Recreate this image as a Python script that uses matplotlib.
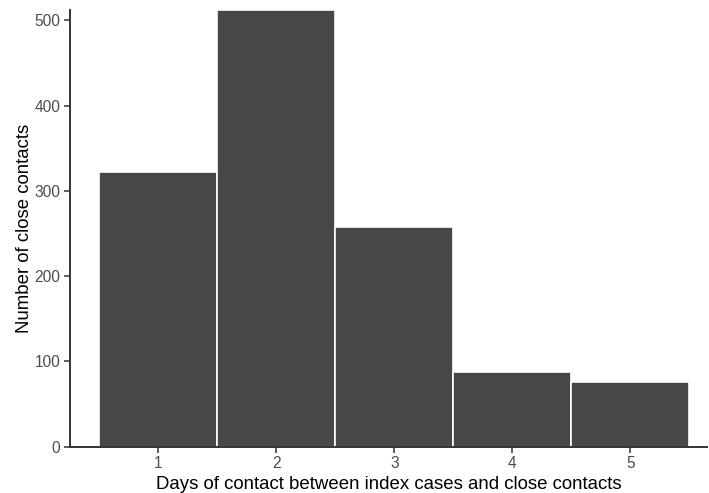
import matplotlib
matplotlib.use("Agg")
import matplotlib.pyplot as plt

days = [1, 2, 3, 4, 5]
counts = [322, 512, 258, 88, 76]
x_ticks = [1, 2, 3, 4, 5]
y_ticks = [0, 100, 200, 300, 400, 500]

plt.rcParams['font.family'] = ['Liberation Sans', 'DejaVu Sans']

fig = plt.figure(figsize=(7.09, 4.93), dpi=100)
ax = fig.add_axes([70/709, (493-446.7)/493, (707-70)/709, (446.7-10)/493])

ax.bar(days, counts, width=1.0, color='#474747', edgecolor='white', linewidth=1.2)

ax.set_xlim(0.25, 5.65)
ax.set_ylim(0, 512)
ax.set_xticks(x_ticks)
ax.set_yticks(y_ticks)

for s in ['top', 'right']:
    ax.spines[s].set_visible(False)
for s in ['left', 'bottom']:
    ax.spines[s].set_color('#333333')
    ax.spines[s].set_linewidth(1.4)

ax.tick_params(axis='both', colors='#333333', length=4, width=1.1,
               labelsize=11.2, labelcolor='#4D4D4D', pad=3)

ax.set_xlabel('Days of contact between index cases and close contacts', fontsize=13.4, color='black', labelpad=3)
ax.set_ylabel('Number of close contacts', fontsize=13.4, color='black', labelpad=1)

fig.savefig('out.png', dpi=100)
